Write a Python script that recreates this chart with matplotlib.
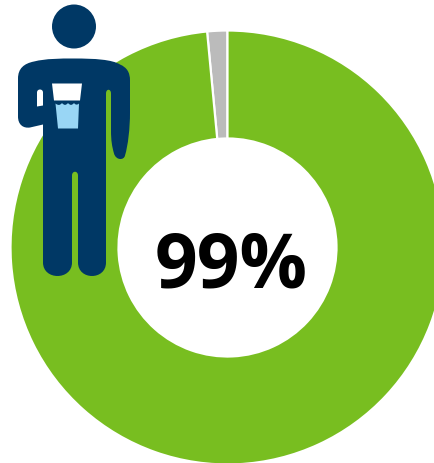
import matplotlib
matplotlib.use("Agg")
import matplotlib.pyplot as plt
from matplotlib.path import Path
from matplotlib.patches import PathPatch, Circle

# Share of people, rounded to a whole percent in the centre label
segments = ["Other", "Drinks water"]
shares = [1.5, 98.5]
segment_colors = ["#BBBBBB", "#78BE20"]
centre_label = "99%"

W, H = 435, 464
NAVY = "#003865"
WATER = "#99D6F5"

fig = plt.figure(figsize=(W / 100, H / 100), dpi=100)
ax = fig.add_axes([0, 0, 1, 1])

ax.pie(shares, colors=segment_colors, startangle=90, counterclock=True,
       center=(227.5, H - 247), radius=217,
       wedgeprops=dict(width=108, edgecolor="white", linewidth=1.6))
ax.set_xlim(0, W)
ax.set_ylim(1.5, H + 1.5)
ax.set_aspect("equal")
ax.axis("off")

ax.text(231, H - 286, centre_label, ha="center", va="baseline", fontsize=54,
        fontweight="bold", family="Open Sans", color="black")


def shape(commands, color, z=5):
    """Add a filled outline given in top-left-origin pixel coordinates."""
    verts, codes = [], []
    for code, *pts in commands:
        for p in pts:
            verts.append((p[0], H - p[1]))
            codes.append(code)
    ax.add_patch(PathPatch(Path(verts, codes), facecolor=color, edgecolor="none", zorder=z))


M, L, C, Z = Path.MOVETO, Path.LINETO, Path.CURVE4, Path.CLOSEPOLY

# Figure: head
ax.add_patch(Circle((74, H - 26), 22, facecolor=NAVY, edgecolor="none", zorder=5))

# Figure: body with arm and legs
body = [
    (M, (74, 58)),
    (C, (95, 58), (112, 59), (120, 64)),
    (C, (127, 67), (130, 72), (130, 80)),
    (L, (130, 112)),
    (C, (130, 128), (128, 145), (125, 155)),
    (C, (124, 160), (116, 160), (114, 153)),
    (C, (112, 146), (111, 140), (111, 130)),
    (L, (111, 93)),
    (C, (111, 88), (106, 88), (106, 93)),
    (L, (106, 262)),
    (C, (106, 280), (78, 280), (78, 262)),
    (L, (78, 175)),
    (C, (78, 170), (72, 170), (72, 175)),
    (L, (72, 262)),
    (C, (72, 280), (43, 280), (43, 262)),
    (L, (43, 124)),
    (L, (30, 127)),
    (C, (23, 128), (18, 124), (18, 116)),
    (L, (18, 78)),
    (C, (18, 68), (24, 63), (34, 61)),
    (C, (46, 58), (60, 58), (74, 58)),
    (Z, (74, 58)),
]
shape(body, NAVY)

# Gap between the raised forearm and the torso
arm_gap = [
    (M, (37, 92)),
    (C, (37, 88), (43, 88), (43, 92)),
    (L, (43, 105)),
    (L, (37, 106)),
    (Z, (37, 92)),
]
shape(arm_gap, "white", 6)

# Glass: empty upper part
glass_top = [
    (M, (52, 83)), (L, (82, 83)), (L, (80, 100)), (L, (54, 100)), (Z, (52, 83)),
]
shape(glass_top, "white", 6)

# Glass: water with a wavy surface
water = [
    (M, (55.5, 103)),
    (C, (58, 105), (60, 105), (62, 102.5)),
    (C, (64, 105), (66, 105), (68, 102.5)),
    (C, (70, 105), (72, 105), (74, 102.5)),
    (C, (75, 104), (77, 105), (79, 103)),
    (L, (78, 128)),
    (L, (58, 128)),
    (Z, (55.5, 103)),
]
shape(water, WATER, 6)

fig.savefig("out.png", dpi=100)
